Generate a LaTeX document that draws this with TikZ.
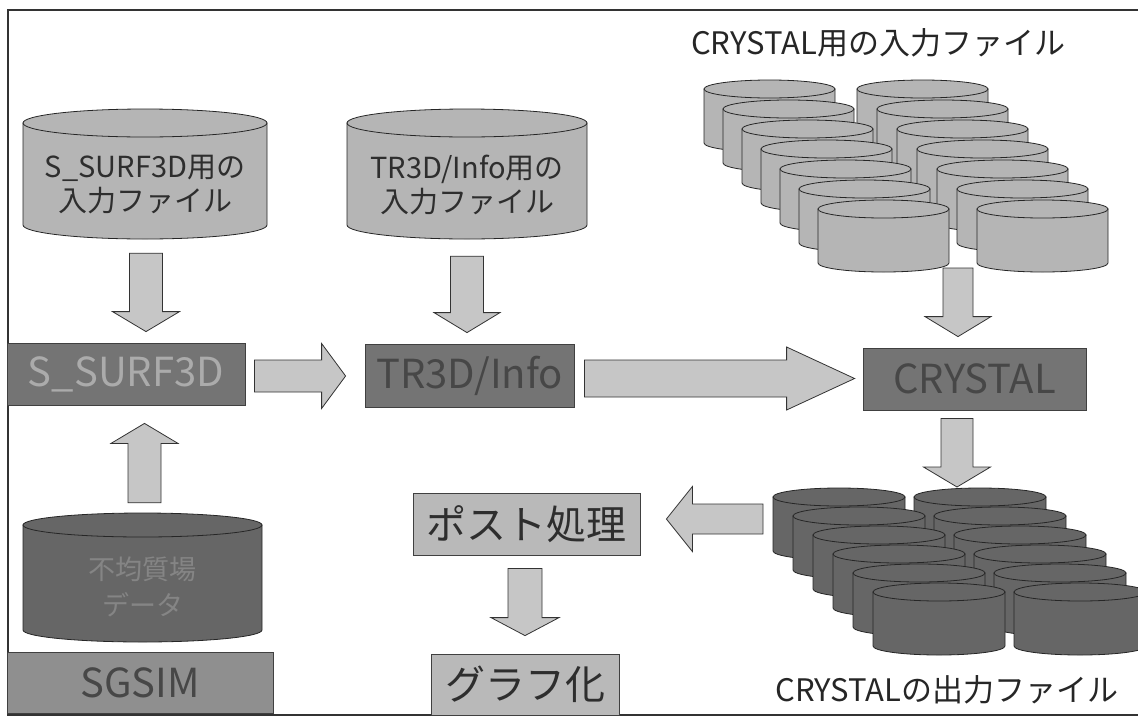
\documentclass[tikz,border=0pt]{standalone}
\usepackage{fontspec}
\setmainfont{Noto Sans CJK JP}
\usepackage{xcolor}
\usepackage{tikz}
\usetikzlibrary{calc}

\definecolor{drumgray}{HTML}{B5B5B5}
\definecolor{drumdark}{HTML}{666666}
\definecolor{arrowgray}{HTML}{C6C6C6}
\definecolor{boxdark}{HTML}{747474}
\definecolor{boxmid}{HTML}{8F8F8F}
\definecolor{boxlight}{HTML}{B9B9B9}
\definecolor{inktext}{HTML}{2E2E2E}
\definecolor{embossed}{HTML}{474747}
\definecolor{paletext}{HTML}{ABABAB}
\definecolor{drumtextdark}{HTML}{858585}

% name, left, top, width, height, end radius, fill, text style, text
\newcommand{\drum}[9]{%
  \path[fill=#7, draw=black!85, line width=0.8pt]
    (#2,#3+#6) -- (#2,#3+#5-#6)
    arc[start angle=180, end angle=360, x radius=#4*0.5pt, y radius=#6*1pt]
    -- (#2+#4,#3+#6) -- cycle;
  \path[fill=#7, draw=black!85, line width=0.8pt]
    (#2+#4/2,#3+#6) ellipse[x radius=#4*0.5pt, y radius=#6*1pt];
  \node[inner sep=0pt, minimum width=#4*1pt, minimum height=#5*1pt] (#1) at (#2+#4/2,#3+#5/2) {};
  \node[drumtext, #8] at ($(#1.center)+(0,#6*0.75)$) {#9};
}

\begin{document}
\begin{tikzpicture}[x=1pt, y=-1pt,
  box/.style={draw=black!75, line width=0.8pt, inner sep=0pt, font=\fontsize{40}{48}\selectfont},
  darkbox/.style={box, fill=boxdark, text=embossed},
  midbox/.style={box, fill=boxmid, text=embossed},
  lightbox/.style={box, fill=boxlight, text=inktext},
  drumtext/.style={align=center, inner sep=0pt, text=inktext, font=\fontsize{29}{34}\selectfont},
  title/.style={inner sep=0pt, text=black!85, font=\fontsize{31}{36}\selectfont},
  arrowbox/.style={draw=black!80, line width=0.8pt, fill=arrowgray, line join=miter},
  fat/.style n args={3}{to path={
      ($(\tikztostart)!#1!90:(\tikztotarget)$)
      -- ($(\tikztotarget)!#3!(\tikztostart)!#1!-90:(\tikztostart)$)
      -- ($(\tikztotarget)!#3!(\tikztostart)!#2!-90:(\tikztostart)$)
      -- (\tikztotarget)
      -- ($(\tikztotarget)!#3!(\tikztostart)!#2!90:(\tikztostart)$)
      -- ($(\tikztotarget)!#3!(\tikztostart)!#1!90:(\tikztostart)$)
      -- ($(\tikztostart)!#1!-90:(\tikztotarget)$)
      -- cycle}}]
  \useasboundingbox (0,0) rectangle (1138,718);
  \draw[line width=1.2pt, black!80] (8,10) rectangle (1160,715);

  % input files
  \drum{ssin}{23}{109}{244}{130}{14}{drumgray}{}{S\_SURF3D用の\\入力ファイル}
  \drum{trin}{347}{109}{240}{130}{14}{drumgray}{}{TR3D/Info用の\\入力ファイル}
  \drum{sgcyl}{23}{513}{239}{129}{12}{drumdark}{text=drumtextdark, font=\fontsize{27}{36}\selectfont}{不均質場\\データ}

  \foreach \i in {0,...,6} {
    \drum{inl\i}{704+19*\i}{80+20*\i}{131}{72}{9}{drumgray}{}{}
    \drum{inr\i}{857+20*\i}{80+20*\i}{131}{72}{9}{drumgray}{}{}
  }
  \foreach \i in {0,...,5} {
    \drum{outl\i}{773+20*\i}{488+19*\i}{132}{72}{9}{drumdark}{}{}
    \drum{outr\i}{914+20*\i}{488+19*\i}{132}{72}{9}{drumdark}{}{}
  }

  \node[title] (intitle) at (878,43) {CRYSTAL用の入力ファイル};
  \node[title] (outtitle) at (947,690) {CRYSTALの出力ファイル};

  % programs
  \node[darkbox, text=paletext, minimum width=238pt, minimum height=62pt] (ssurf) at (126,374) {S\_SURF3D};
  \node[darkbox, minimum width=209pt, minimum height=63pt] (tr3d) at (469.5,375.5) {TR3D/Info};
  \node[darkbox, minimum width=223pt, minimum height=62pt] (crystal) at (974.5,379) {CRYSTAL};
  \node[midbox, minimum width=266pt, minimum height=61pt] (sgsim) at (140,682.5) {SGSIM};
  \node[lightbox, minimum width=227pt, minimum height=62pt] (post) at (526.5,524) {ポスト処理};
  \node[lightbox, minimum width=188pt, minimum height=61pt] (graph) at (525,684.5) {グラフ化};

  \coordinate (inbot) at (958,268);
  \coordinate (outtop) at (957,487);
  \coordinate (outwest) at (763,519);

  \draw[arrowbox, fat={16.5pt}{33.5pt}{20pt}] ($(ssin.south)+(1,14)$) to ($(ssin.south |- ssurf.north)+(1,-11)$);
  \draw[arrowbox, fat={16.5pt}{33pt}{20pt}] ($(trin.south)+(0,17)$) to ($(trin.south |- tr3d.north)+(0,-11)$);
  \draw[arrowbox, fat={16.5pt}{33.5pt}{20pt}] ($(sgcyl.north)+(2,-10)$) to ($(sgcyl.north |- ssurf.south)+(2,18)$);
  \draw[arrowbox, fat={16pt}{32.5pt}{24pt}] ($(ssurf.east)+(9,2)$) to ($(tr3d.west |- ssurf.east)+(-19,2)$);
  \draw[arrowbox, fat={18.5pt}{31.5pt}{68pt}] ($(tr3d.east)+(10,3)$) to ($(crystal.west |- tr3d.east)+(-8,3)$);
  \draw[arrowbox, fat={15pt}{33pt}{20pt}] (inbot) to ($(inbot |- crystal.north)+(0,-11)$);
  \draw[arrowbox, fat={16pt}{33.5pt}{20pt}] ($(outtop |- crystal.south)+(0,8)$) to (outtop);
  \draw[arrowbox, fat={15pt}{32.5pt}{26pt}] (outwest) to ($(post.east |- outwest)+(26,0)$);
  \draw[arrowbox, fat={17pt}{34pt}{18pt}] ($(post.south)+(-1.5,13)$) to ($(post.south |- graph.north)+(-1.5,-18)$);
\end{tikzpicture}
\end{document}
